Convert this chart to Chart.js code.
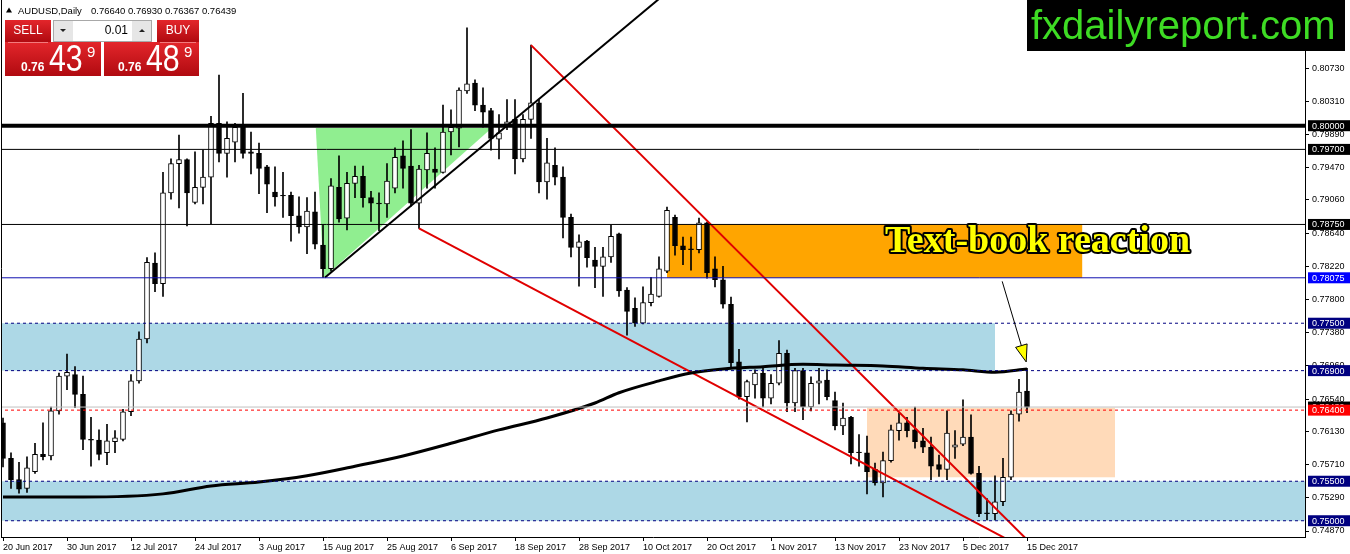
<!DOCTYPE html>
<html><head><meta charset="utf-8">
<script src="https://cdn.jsdelivr.net/npm/chart.js@4.4.0/dist/chart.umd.min.js"></script>
<style>html,body{margin:0;padding:0;background:#fff;overflow:hidden}#wrap{position:relative;width:1350px;height:554px}</style>
</head><body><div id="wrap"><canvas id="c"></canvas></div>
<script>
// ---------- DATA ----------
const symbol = 'AUDUSD,Daily';
const dateLabels = ['20 Jun 2017','30 Jun 2017','12 Jul 2017','24 Jul 2017','3 Aug 2017','15 Aug 2017','25 Aug 2017','6 Sep 2017','18 Sep 2017','28 Sep 2017','10 Oct 2017','20 Oct 2017','1 Nov 2017','13 Nov 2017','23 Nov 2017','5 Dec 2017','15 Dec 2017'];
const dateTickIdx = [0,8,16,24,32,40,48,56,64,72,80,88,96,104,112,120,128];
const priceTicks = [0.8073,0.8031,0.7989,0.7947,0.7906,0.7864,0.7822,0.7780,0.7738,0.7696,0.7654,0.7613,0.7571,0.7529,0.7487];

const opens = [0.7624,0.7579,0.7552,0.7541,0.7562,0.7584,0.7582,0.7639,0.7683,0.7685,
0.7660,0.7603,0.7602,0.7586,0.7600,0.7603,0.7638,0.7677,0.7730,0.7826,
0.7800,0.7915,0.7952,0.7957,0.7903,0.7922,0.7935,0.8003,0.7965,0.7979,
0.7998,0.7967,0.7965,0.7948,0.7916,0.7912,0.7912,0.7886,0.7872,0.7891,
0.7849,0.7819,0.7922,0.7883,0.7927,0.7936,0.7909,0.7902,0.7901,0.7921,
0.7962,0.7949,0.7902,0.7944,0.7945,0.7941,0.7992,0.7997,0.8044,0.8054,
0.8026,0.8019,0.7983,0.8002,0.8008,0.7958,0.8008,0.8029,0.7929,0.7950,
0.7935,0.7884,0.7846,0.7854,0.7830,0.7822,0.7834,0.7863,0.7792,0.7769,
0.7750,0.7776,0.7784,0.7816,0.7884,0.7848,0.7844,0.7843,0.7877,0.7819,
0.7805,0.7774,0.7701,0.7657,0.7672,0.7687,0.7655,0.7674,0.7712,0.7649,
0.7690,0.7644,0.7674,0.7678,0.7652,0.7620,0.7631,0.7587,0.7586,0.7565,
0.7548,0.7576,0.7614,0.7624,0.7615,0.7601,0.7593,0.7571,0.7565,0.7593,
0.7597,0.7606,0.7560,0.7510,0.7509,0.7524,0.7555,0.7635,0.7664];
const highs = [0.7630,0.7586,0.7574,0.7581,0.7598,0.7624,0.7644,0.7687,0.7711,0.7695,
0.7683,0.7631,0.7615,0.7622,0.7614,0.7641,0.7685,0.7739,0.7833,0.7839,
0.7941,0.7958,0.7988,0.7958,0.7967,0.7969,0.8012,0.8064,0.8005,0.8003,
0.8041,0.7992,0.7978,0.7950,0.7948,0.7941,0.7916,0.7910,0.7909,0.7916,
0.7874,0.7933,0.7962,0.7941,0.7949,0.7949,0.7917,0.7915,0.7952,0.7972,
0.7981,0.7995,0.7950,0.7991,0.7972,0.8026,0.8020,0.8048,0.8124,0.8058,
0.8048,0.8022,0.8014,0.8033,0.8033,0.8014,0.8102,0.8033,0.7984,0.7972,
0.7948,0.7888,0.7862,0.7855,0.7846,0.7846,0.7874,0.7864,0.7795,0.7782,
0.7796,0.7808,0.7834,0.7897,0.7887,0.7859,0.7859,0.7883,0.7878,0.7834,
0.7822,0.7783,0.7717,0.7678,0.7691,0.7693,0.7685,0.7728,0.7716,0.7693,
0.7693,0.7682,0.7693,0.7691,0.7663,0.7649,0.7632,0.7609,0.7607,0.7573,
0.7587,0.7621,0.7636,0.7631,0.7644,0.7617,0.7606,0.7583,0.7639,0.7614,
0.7653,0.7634,0.7569,0.7528,0.7557,0.7579,0.7639,0.7679,0.7693];
const lows = [0.7568,0.7541,0.7535,0.7536,0.7560,0.7577,0.7577,0.7635,0.7666,0.7643,
0.7590,0.7569,0.7577,0.7571,0.7586,0.7601,0.7633,0.7674,0.7725,0.7790,
0.7784,0.7907,0.7896,0.7873,0.7901,0.7901,0.7876,0.7954,0.7935,0.7954,
0.7959,0.7939,0.7914,0.7890,0.7898,0.7884,0.7854,0.7864,0.7838,0.7844,
0.7808,0.7816,0.7878,0.7868,0.7909,0.7897,0.7879,0.7867,0.7884,0.7915,
0.7921,0.7898,0.7870,0.7921,0.7921,0.7940,0.7963,0.7973,0.8041,0.8019,
0.7998,0.7969,0.7958,0.7995,0.7939,0.7954,0.7984,0.7915,0.7907,0.7925,
0.7858,0.7834,0.7797,0.7821,0.7795,0.7784,0.7827,0.7784,0.7735,0.7746,
0.7749,0.7772,0.7783,0.7814,0.7836,0.7824,0.7817,0.7839,0.7807,0.7796,
0.7769,0.7693,0.7654,0.7625,0.7655,0.7644,0.7648,0.7672,0.7638,0.7638,
0.7628,0.7639,0.7648,0.7653,0.7615,0.7609,0.7572,0.7569,0.7534,0.7545,
0.7530,0.7574,0.7602,0.7606,0.7592,0.7586,0.7552,0.7556,0.7552,0.7579,
0.7595,0.7559,0.7505,0.7501,0.7501,0.7519,0.7552,0.7626,0.76367];
const closes = [0.7579,0.7552,0.7540,0.7567,0.7584,0.7581,0.7639,0.7683,0.7688,0.7660,
0.7603,0.7602,0.7584,0.7601,0.7605,0.7638,0.7677,0.7730,0.7827,0.7800,
0.7915,0.7952,0.7957,0.7915,0.7922,0.7935,0.8003,0.7965,0.7984,0.7998,
0.7965,0.7965,0.7946,0.7926,0.7910,0.7911,0.7886,0.7872,0.7892,0.7850,
0.7819,0.7924,0.7882,0.7927,0.7936,0.7909,0.7902,0.7901,0.7930,0.7960,
0.7946,0.7902,0.7945,0.7965,0.7941,0.7992,0.7998,0.8045,0.8053,0.8026,
0.8017,0.7984,0.7991,0.8005,0.7958,0.8008,0.8029,0.7929,0.7953,0.7935,
0.7884,0.7846,0.7853,0.7833,0.7822,0.7834,0.7860,0.7791,0.7765,0.7750,
0.7776,0.7787,0.7819,0.7893,0.7848,0.7843,0.7843,0.7877,0.7814,0.7805,
0.7774,0.7700,0.7657,0.7676,0.7687,0.7655,0.7674,0.7712,0.7649,0.7690,
0.7644,0.7674,0.7677,0.7657,0.7620,0.7630,0.7586,0.7586,0.7562,0.7548,
0.7576,0.7615,0.7624,0.7614,0.7600,0.7593,0.7569,0.7565,0.7611,0.7596,
0.7606,0.7560,0.7509,0.7509,0.7524,0.7555,0.7635,0.7663,0.76439];

// moving average read at sample bars
const maIdx  = [0,10,20,26,32,38,44,50,56,62,68,74,77,82,86,90,95,100,104,110,115,120,124,128];
const maVals = [0.7530,0.7530,0.7534,0.7544,0.7549,0.7557,0.7569,0.7582,0.7598,0.7615,0.7630,0.7649,0.7662,0.7677,0.7687,0.7692,0.7695,0.7698,0.7697,0.7696,0.7693,0.7691,0.7688,0.7692];

// horizontal levels
const levelVals = [0.80000,0.79700,0.78750,0.78075,0.77500,0.76900,0.76400,0.75500,0.75000];
const bidPrice = 0.76439;
const askPrice = 0.76489;

// zones (bar index range, price range)
const zoneX0 = [-2, -2, 83, 108];
const zoneX1 = [124, 200, 134.9, 139];
const zoneHi = [0.7750, 0.7550, 0.7875, 0.7643];
const zoneLo = [0.7690, 0.7500, 0.78075, 0.7555];

// triangle
const triX = [39.1, 61.1, 40.1];
const triY = [0.7997, 0.7997, 0.7808];

// trend lines
const blackTrendX = [40.25, 90];   const blackTrendY = [0.7808, 0.8228];
const redLowX = [52, 126];         const redLowY = [0.7870, 0.7474];
const redHighX = [66, 128.5];      const redHighY = [0.8102, 0.7471];

// arrow + note
const arrowX = [124.9, 127.9];     const arrowY = [0.7803, 0.7701];
const noteText = 'Text-book reaction';
const noteX = 110.25, noteY = 0.7840;

// ---------- STYLES ----------
const levelColors = ['#000000','#000000','#000000','#1010B0','#000080','#000080','#FF0000','#000080','#000080'];
const levelWidths = [4,1,1,1,1,1,1,1,1];
const levelDash   = [[],[],[],[],[3,3],[3,3],[3,3],[3,3],[3,3]];
const levelBoxBg  = ['#000000','#000000','#000000','#0000FF','#000080','#000080','#FF0000','#000080','#000080'];
const zoneColors  = ['#ADD8E6','#ADD8E6','#FFA500','#FFDAB9'];
const FONT = "'Liberation Sans', Arial, sans-serif";

// ---------- DATASETS ----------
const bodyData = opens.map((o,i)=>({x:i, y:[o, closes[i]]}));
const wickData = lows.map((l,i)=>({x:i, y:[l, highs[i]]}));
const bodyColors = opens.map((o,i)=> closes[i] > o ? '#FFFFFF' : '#000000');

function seg(xs, ys, color, width, dash){
  return {type:'line', data: xs.map((v,k)=>({x:v, y:ys[k]})), borderColor:color, borderWidth:width,
    borderDash:dash||[], pointRadius:0, pointHoverRadius:0, fill:false, tension:0, clip:0, order:0};
}
const datasets = [];
levelVals.forEach((v,k)=> datasets.push(seg([-5,200],[v,v], levelColors[k], levelWidths[k], levelDash[k])));
datasets.push(seg([-5,200],[bidPrice,bidPrice],'#C0C0C0',1));
const ma = seg(maIdx, maVals, '#000000', 3); ma.cubicInterpolationMode = 'monotone'; datasets.push(ma);
datasets.push(seg(blackTrendX, blackTrendY, '#000000', 2));
datasets.push(seg(redLowX, redLowY, '#E00000', 2));
datasets.push(seg(redHighX, redHighY, '#E00000', 2));
datasets.push({type:'bar', data:bodyData, backgroundColor:bodyColors, borderColor:'#000000', borderWidth:1,
  borderSkipped:false, barThickness:5, grouped:false, order:1});
datasets.push({type:'bar', data:wickData, backgroundColor:'#000000', borderWidth:0,
  barThickness:1, grouped:false, order:2});

// ---------- PLUGIN ----------
function redGrad(ctx,y0,y1){const g=ctx.createLinearGradient(0,y0,0,y1);g.addColorStop(0,'#E3262B');g.addColorStop(1,'#B00A10');return g;}
const overlay = {
  id:'overlay',
  beforeDraw(chart){const c=chart.ctx;c.save();c.fillStyle='#fff';c.fillRect(0,0,chart.width,chart.height);c.restore();},
  beforeDatasetsDraw(chart){
    const {ctx, chartArea:a, scales:{x,y}} = chart;
    ctx.save(); ctx.beginPath(); ctx.rect(a.left,a.top,a.right-a.left,a.bottom-a.top); ctx.clip();
    zoneX0.forEach((x0,k)=>{
      const px0=x.getPixelForValue(x0), px1=x.getPixelForValue(zoneX1[k]);
      const py0=y.getPixelForValue(zoneHi[k]), py1=y.getPixelForValue(zoneLo[k]);
      ctx.fillStyle=zoneColors[k]; ctx.fillRect(px0,py0,px1-px0,py1-py0);
    });
    ctx.beginPath();
    triX.forEach((tx,k)=>{const px=x.getPixelForValue(tx),py=y.getPixelForValue(triY[k]); k?ctx.lineTo(px,py):ctx.moveTo(px,py);});
    ctx.closePath(); ctx.fillStyle='#90EE90'; ctx.fill();
    ctx.restore();
  },
  afterDatasetsDraw(chart){
    const {ctx, scales:{x,y}} = chart;
    ctx.save();
    // arrow
    const sx=x.getPixelForValue(arrowX[0]), sy=y.getPixelForValue(arrowY[0]);
    const tx=x.getPixelForValue(arrowX[1]), ty=y.getPixelForValue(arrowY[1]);
    const L=Math.hypot(tx-sx,ty-sy), ux=(tx-sx)/L, uy=(ty-sy)/L, nx=-uy, ny=ux;
    const bx=tx-17*ux, by=ty-17*uy;
    ctx.strokeStyle='#000'; ctx.lineWidth=1;
    ctx.beginPath(); ctx.moveTo(sx,sy); ctx.lineTo(bx,by); ctx.stroke();
    ctx.beginPath(); ctx.moveTo(tx,ty); ctx.lineTo(bx+6*nx,by+6*ny); ctx.lineTo(bx-6*nx,by-6*ny); ctx.closePath();
    ctx.fillStyle='#FFFF00'; ctx.fill(); ctx.stroke();
    // note
    ctx.font="bold 38px 'Liberation Serif', 'Times New Roman', serif";
    ctx.textBaseline='alphabetic'; ctx.textAlign='left';
    ctx.lineJoin='round'; ctx.lineWidth=4; ctx.strokeStyle='#000';
    const nx0=x.getPixelForValue(noteX), ny0=y.getPixelForValue(noteY);
    ctx.strokeText(noteText,nx0,ny0); ctx.fillStyle='#FFFF00'; ctx.fillText(noteText,nx0,ny0);
    ctx.restore();
  },
  afterDraw(chart){
    const {ctx, chartArea:a, scales:{y}} = chart;
    ctx.save();
    // left frame
    ctx.strokeStyle='#000'; ctx.lineWidth=1;
    ctx.beginPath(); ctx.moveTo(a.left+0.5,0); ctx.lineTo(a.left+0.5,a.bottom); ctx.stroke();
    // price boxes on axis
    ctx.font='9px '+FONT; ctx.textBaseline='middle'; ctx.textAlign='left';
    const box=(v,bg)=>{const py=y.getPixelForValue(v); ctx.fillStyle=bg; ctx.fillRect(a.right+3,py-5.5,chart.width-a.right-3,11);
      ctx.fillStyle='#fff'; ctx.fillText(v.toFixed(5),a.right+7,py+0.5);};
    box(bidPrice,'#000000');
    levelVals.forEach((v,k)=>box(v,levelBoxBg[k]));
    // header
    const last=opens.length-1;
    ctx.fillStyle='#000';
    ctx.beginPath(); ctx.moveTo(6,12.5); ctx.lineTo(12,12.5); ctx.lineTo(9,7.5); ctx.closePath(); ctx.fill();
    ctx.font='9.5px '+FONT; ctx.textBaseline='alphabetic';
    ctx.fillText(symbol,18,14);
    ctx.fillText([opens[last],highs[last],lows[last],closes[last]].map(v=>v.toFixed(5)).join(' '),91,14);
    // trade panel
    ctx.fillStyle=redGrad(ctx,20,42); ctx.fillRect(5,20,46,22); ctx.fillRect(157,20,42,22);
    ctx.fillStyle=redGrad(ctx,42,76); ctx.fillRect(5,42,96,34); ctx.fillRect(104,42,95,34);
    ctx.strokeStyle='rgba(255,180,180,0.6)'; ctx.beginPath(); ctx.moveTo(8,42.5); ctx.lineTo(48,42.5); ctx.moveTo(160,42.5); ctx.lineTo(196,42.5); ctx.stroke();
    ctx.fillStyle='#E6E6E6'; ctx.fillRect(53,20,20,22); ctx.fillRect(132,20,20,22);
    ctx.fillStyle='#fff'; ctx.fillRect(73,20,59,22);
    ctx.strokeStyle='#A8A8A8'; ctx.strokeRect(53.5,20.5,98,21);
    ctx.fillStyle='#222';
    ctx.beginPath(); ctx.moveTo(60,29); ctx.lineTo(66,29); ctx.lineTo(63,32); ctx.closePath(); ctx.fill();
    ctx.beginPath(); ctx.moveTo(139,32); ctx.lineTo(145,32); ctx.lineTo(142,29); ctx.closePath(); ctx.fill();
    ctx.font='12px '+FONT; ctx.textAlign='right'; ctx.textBaseline='middle'; ctx.fillStyle='#000';
    ctx.fillText('0.01',128,31);
    ctx.textAlign='center'; ctx.fillStyle='#fff';
    ctx.fillText('SELL',28,31); ctx.fillText('BUY',178,31);
    ctx.textAlign='left'; ctx.textBaseline='alphabetic';
    const quote=(p,x0)=>{const s=p.toFixed(5);
      ctx.font='bold 12px '+FONT; ctx.fillText(s.slice(0,4),x0+1,71);
      ctx.save(); ctx.translate(x0+29,71); ctx.scale(0.82,1);
      ctx.font='37px '+FONT; ctx.fillText(s.slice(4,6),0,0); ctx.restore();
      ctx.font='15px '+FONT; ctx.fillText(s.slice(6),x0+67,57);};
    quote(bidPrice,20); quote(askPrice,117);
    // logo
    ctx.fillStyle='#000'; ctx.fillRect(1027,0,318,51);
    ctx.fillStyle='#3EDC24'; ctx.font='40px '+FONT; ctx.fillText('fxdailyreport.com',1031,39);
    ctx.restore();
  }
};

Chart.defaults.font.family = FONT;
new Chart(document.getElementById('c'), {
  type:'bar',
  data:{datasets},
  options:{
    responsive:true, maintainAspectRatio:false, animation:false, events:[],
    layout:{padding:{left:1,top:0,right:0,bottom:0}},
    plugins:{legend:{display:false}, tooltip:{enabled:false}},
    scales:{
      x:{type:'linear', min:-0.25, max:162.75, offset:false,
        afterFit:s=>{s.height=17; s.paddingLeft=0; s.paddingRight=0;},
        afterBuildTicks:s=>{s.ticks=dateTickIdx.map(v=>({value:v}));},
        grid:{display:true, drawOnChartArea:false, drawTicks:true, tickLength:4, color:'#000', tickColor:'#000', offset:false},
        border:{display:true, color:'#000', width:1},
        ticks:{autoSkip:false, maxRotation:0, minRotation:0, align:'start', padding:1, color:'#000', font:{size:9},
          callback:(v,i)=>dateLabels[i]}},
      y:{type:'linear', position:'right', min:0.747942, max:0.81591,
        afterFit:s=>{s.width=45; s.paddingTop=0; s.paddingBottom=0;},
        afterBuildTicks:s=>{s.ticks=priceTicks.map(v=>({value:v}));},
        grid:{display:true, drawOnChartArea:false, drawTicks:true, tickLength:4, color:'#000', tickColor:'#000'},
        border:{display:true, color:'#000', width:1},
        ticks:{autoSkip:false, padding:3, color:'#000', font:{size:9}, callback:v=>Number(v).toFixed(5)}}
    }
  },
  plugins:[overlay]
});
</script></body></html>
